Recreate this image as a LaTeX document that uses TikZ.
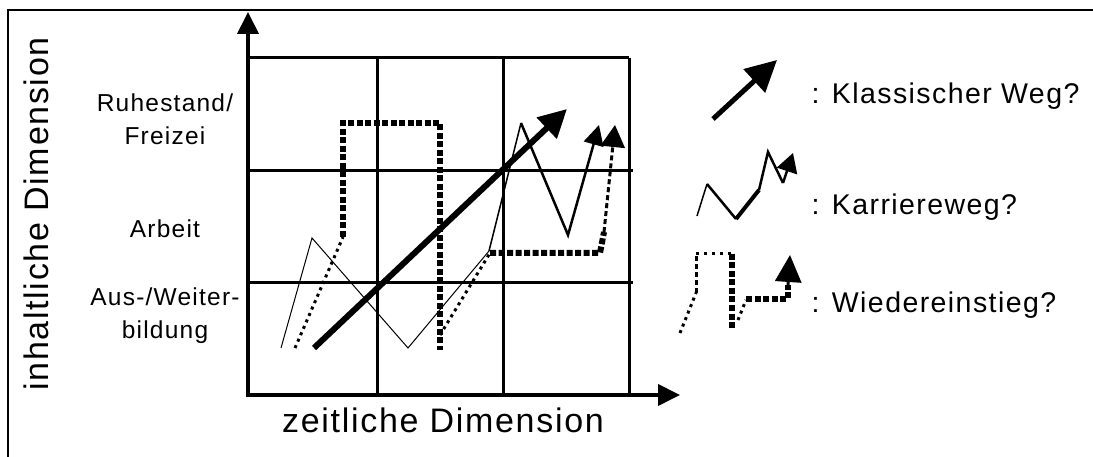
\documentclass[tikz,border=0pt]{standalone}
\usepackage{fontspec}
\setmainfont[LetterSpace=5]{Liberation Sans}
\usetikzlibrary{arrows.meta}
\usetikzlibrary{positioning}

\begin{document}
\begin{tikzpicture}[x=1pt, y=-1pt,
  frame/.style={line width=2.5pt},
  gridline/.style={line width=3pt},
  axis/.style={line width=4pt, -{Triangle[length=22pt, width=21pt]}},
  klassisch/.style={line width=6pt, -{Triangle[length=28pt, width=28pt]}},
  fatdash/.style={line width=6pt, dash pattern=on 6pt off 2.5pt},
  finedots/.style={line width=3pt, dash pattern=on 3pt off 4pt},
  rowlabel/.style={font=\fontsize{24.5}{33}\selectfont, align=center},
  legendtext/.style={font=\fontsize{28.5}{32}\selectfont, anchor=west},
  axistitle/.style={font=\fontsize{34}{38}\selectfont}]

\useasboundingbox (0,0) rectangle (1093,457);

% frame
\draw[frame] (8,457) -- (8,10) -- (1093,10);

% Draw the grid
\foreach \x in {248,377,503,629}
  \draw[gridline] (\x,58) -- (\x,393);
\draw[gridline] (248,58) -- (629,58);
\foreach \y in {171,283}
  \draw[gridline] (248,\y) -- (633,\y);

% Draw the axes
\draw[axis] (248,396) -- (248,12);
\draw[axis] (246,395) -- (680,395);

% axis labels
\node[axistitle, rotate=90] (inhalt) at (36,214) {inhaltliche Dimension};
\node[axistitle] (zeit) at (443,420) {zeitliche Dimension};
\node[rowlabel] (ruhe) at (165,119) {Ruhestand/\\Freizei};
\node[rowlabel] (arbeit) at (165,229) {Arbeit};
\node[rowlabel] (bildung) at (165,316) {Aus-/Weiter-\\bildung};

% classic way
\draw[klassisch] (314,348) -- (567,109);

% career way
\draw[line width=1pt] (281,348) -- (312,238) -- (408,348) -- (489,251);
\draw[line width=1.5pt] (489,251) -- (521,123);
\draw[line width=2.5pt, -{Triangle[length=20pt, width=20pt]}]
  (521,123) -- (568,235) -- (599,125);

% re-entry
\draw[finedots] (295,348) -- (343,237);
\draw[fatdash] (343,237) -- (343,123) -- (440,123) -- (440,350);
\draw[finedots] (440,335) -- (490,253);
\draw[fatdash] (490,253) -- (600,253) -- (604,232);
\draw[line width=3pt, dash pattern=on 5pt off 3pt,
  -{Triangle[length=22pt, width=24pt]}] (604,232) -- (615,125);

% legend
\draw[line width=5pt, -{Triangle[length=31pt, width=31pt]}] (713,119) -- (777,60);
\node[legendtext] (klass) at (808,96) {: Klassischer Weg?};

\draw[line width=1.5pt] (697,216) -- (707,184);
\draw[line width=2.5pt] (707,184) -- (736,219);
\draw[line width=4pt] (736,219) -- (759,190);
\draw[line width=2.5pt] (759,190) -- (768,152) -- (783,183);
\draw[line width=2.5pt, -{Triangle[length=19pt, width=21pt]}] (783,183) -- (793,153);
\node[legendtext] (karriere) at (808,207) {: Karriereweg?};

\draw[finedots] (680,333) -- (696,293);
\draw[line width=3pt, dash pattern=on 5pt off 3pt] (696,293) -- (696,254);
\draw[line width=3pt, dash pattern=on 3pt off 5pt] (696,254) -- (732,254);
\draw[fatdash] (732,254) -- (732,330);
\draw[finedots] (738,320) -- (746,300);
\draw[fatdash] (746,299) -- (788,299) -- (788,285);
\draw[line width=3pt, -{Triangle[length=27pt, width=26pt]}] (788,285) -- (790,255);
\node[legendtext] (wieder) at (808,305) {: Wiedereinstieg?};

\end{tikzpicture}
\end{document}
